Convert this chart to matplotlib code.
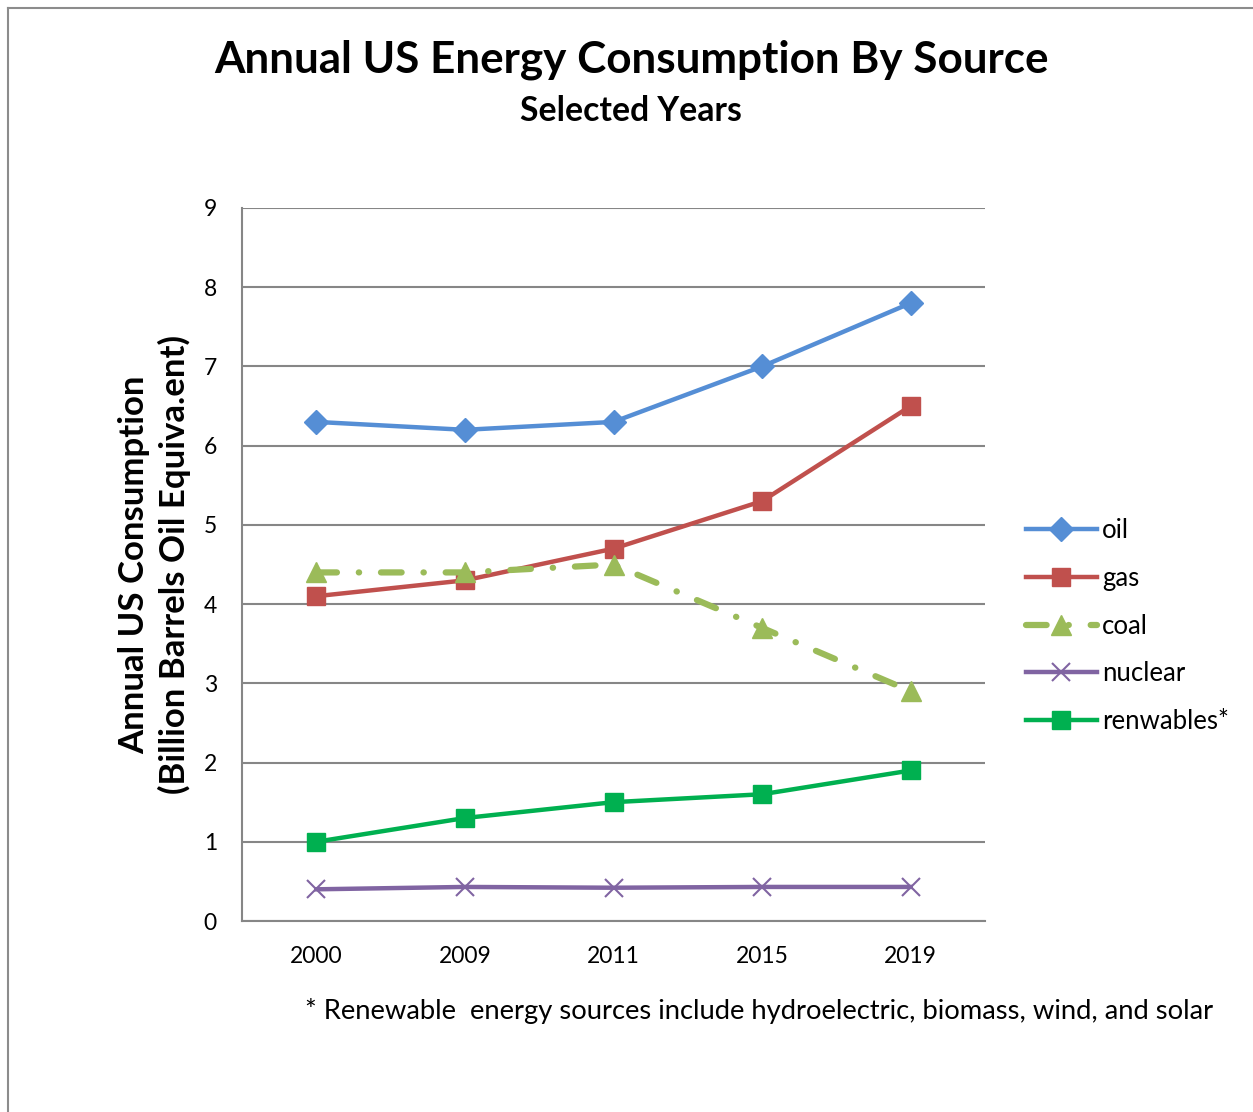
import matplotlib
matplotlib.use("Agg")
import matplotlib.pyplot as plt
from matplotlib.lines import Line2D

plt.rcParams['font.family'] = ['Lato', 'DejaVu Sans']

years = ["2000", "2009", "2011", "2015", "2019"]
oil = [6.3, 6.2, 6.3, 7.0, 7.8]
gas = [4.1, 4.3, 4.7, 5.3, 6.5]
coal = [4.4, 4.4, 4.5, 3.7, 2.9]
nuclear = [0.40, 0.43, 0.42, 0.43, 0.43]
renewables = [1.0, 1.3, 1.5, 1.6, 1.9]
y_ticks = list(range(0, 10))

W, H, DPI = 1253, 1112, 100
fig = plt.figure(figsize=(W / DPI, H / DPI), dpi=DPI)
fig.patch.set_facecolor('white')

# plot area in pixel coordinates
left, right, top, bottom = 242, 985, 208, 921
ax = fig.add_axes([left / W, 1 - bottom / H, (right - left) / W, (bottom - top) / H])

x = list(range(len(years)))
lw = 3.2
ax.plot(x, oil, color='#558ED5', lw=lw, marker='D', ms=12, label='oil', zorder=5)
ax.plot(x, gas, color='#C0504D', lw=lw, marker='s', ms=13, label='gas', zorder=4)
ax.plot(x, coal, color='#9BBB59', lw=4.5, marker='^', ms=15, label='coal',
        linestyle=(0, (3.3, 3.5, 0.05, 3.5)), dash_capstyle='round', zorder=6)
ax.plot(x, nuclear, color='#8064A2', lw=lw, marker='x', ms=13, mew=1.5, label='nuclear', zorder=3)
ax.plot(x, renewables, color='#00B050', lw=lw, marker='s', ms=13, label='renwables*', zorder=3)

ax.set_xlim(-0.5, len(years) - 0.5)
ax.set_ylim(0, 9)
ax.set_yticks(y_ticks)
ax.set_xticks(x)
ax.set_xticklabels(years)
ax.tick_params(axis='both', labelsize=16.5, length=0, colors='#000000')
ax.tick_params(axis='x', pad=18)
ax.tick_params(axis='y', pad=18)
ax.grid(axis='y', color='#868686', lw=1.5)
ax.set_axisbelow(True)
for s in ['top', 'right']:
    ax.spines[s].set_visible(False)
for s in ['left', 'bottom']:
    ax.spines[s].set_color('#868686')
    ax.spines[s].set_linewidth(1.5)

ax.set_ylabel('Annual US Consumption\n(Billion Barrels Oil Equiva.ent)',
              fontsize=25, fontweight='bold', linespacing=1.3)
ax.yaxis.set_label_coords(-0.068, 0.5)

leg = fig.legend(loc='center left', bbox_to_anchor=(1026 / W, 1 - 626 / H),
                 frameon=False, fontsize=18.5, handlelength=2.75, labelspacing=0.88,
                 handletextpad=0.2, borderaxespad=0, borderpad=0)

fig.text(631 / W, 1 - 60 / H, 'Annual US Energy Consumption By Source',
         ha='center', va='center', fontsize=31.7, fontweight='bold')
fig.text(631 / W, 1 - 111 / H, 'Selected Years',
         ha='center', va='center', fontsize=24.3, fontweight='bold')
fig.text(305 / W, 1 - 1011 / H,
         '* Renewable  energy sources include hydroelectric, biomass, wind, and solar',
         ha='left', va='center', fontsize=19.7)

# outer frame
fig.add_artist(Line2D([7.5 / W, 7.5 / W], [0, 1 - 7.5 / H], transform=fig.transFigure,
                      color='#8C8C8C', lw=1.5))
fig.add_artist(Line2D([7.5 / W, 1], [1 - 7.5 / H, 1 - 7.5 / H], transform=fig.transFigure,
                      color='#8C8C8C', lw=1.5))

fig.savefig('out.png', dpi=DPI)
